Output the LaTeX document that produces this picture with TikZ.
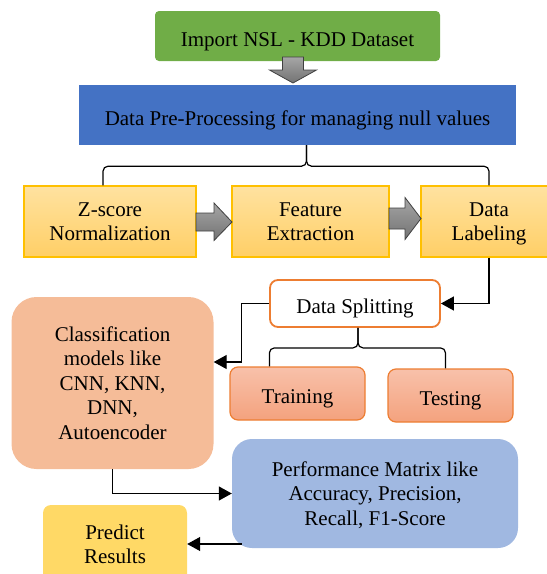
\documentclass[tikz,border=0pt]{standalone}
\usepackage{fontspec}
\setmainfont{Liberation Serif}
\usetikzlibrary{arrows.meta, positioning, calc}
\definecolor{impgreen}{RGB}{112,173,71}
\definecolor{preblue}{RGB}{68,114,196}
\definecolor{steptop}{RGB}{255,226,160}
\definecolor{stepbot}{RGB}{255,207,102}
\definecolor{stepline}{RGB}{255,192,0}
\definecolor{splitorg}{RGB}{237,125,49}
\definecolor{clspeach}{RGB}{245,188,152}
\definecolor{settop}{RGB}{248,193,170}
\definecolor{setbot}{RGB}{244,162,126}
\definecolor{perfblue}{RGB}{160,184,225}
\definecolor{predyellow}{RGB}{255,217,102}
\tikzset{
  base/.style={rectangle, inner sep=2pt, align=center, text depth=0pt,
    font=\fontsize{21}{24.5}\selectfont},
  oneline/.style={text height=20pt},
  stepbox/.style={base, draw=stepline, line width=1.2pt,
    top color=steptop, bottom color=stepbot},
  setbox/.style={base, oneline, draw=splitorg, line width=1.2pt, rounded corners=8pt,
    top color=settop, bottom color=setbot},
  fatarrow/.style={draw=black!75, line width=0.8pt, line join=miter,
    top color=gray!70, bottom color=black!55},
  arr/.style={-{Triangle[length=13pt,width=14pt]}, line width=1.2pt},
  brc/.style={line width=1.2pt, rounded corners=5pt},
}

\begin{document}
\begin{tikzpicture}[x=1pt, y=-1pt]
\useasboundingbox (0,0) rectangle (547,574);

% ── top: import and pre-processing ──
\node[base, oneline, fill=impgreen, rounded corners=4pt, minimum width=285pt, minimum height=50pt]
  (imp) at (297.5,36) {Import NSL - KDD Dataset};
\node[base, oneline, fill=preblue, minimum width=437pt, minimum height=60pt]
  (pre) at (297.5,115) {Data Pre-Processing for managing null values};
\shade[fatarrow] (282.5,57) -- (303.5,57) -- (303.5,70) -- (316.5,70) -- (293,83)
  -- (269.5,70) -- (282.5,70) -- cycle;

% ── row of steps ──
\node[stepbox, minimum width=172pt, minimum height=71pt] (zs) at (110,221.5) {Z-score\\Normalization};
\node[stepbox, minimum width=157pt, minimum height=71pt] (fe) at (310.5,221.5) {Feature\\Extraction};
\node[stepbox, minimum width=136pt, minimum height=71pt] (lab) at (489,221.5) {Data\\Labeling};
\shade[fatarrow] (196,213) -- (214,213) -- (214,203) -- (232,222) -- (214,240.5)
  -- (214,231) -- (196,231) -- cycle;
\shade[fatarrow] (389,208) -- (405,208) -- (405,197.5) -- (421,218.5) -- (405,239.5)
  -- (405,229) -- (389,229) -- cycle;

% ── splitting and models ──
\node[base, oneline, draw=splitorg, line width=1.8pt, fill=white, rounded corners=8pt,
  minimum width=170pt, minimum height=47pt] (split) at (355,303.5) {Data Splitting};
\node[base, fill=clspeach, rounded corners=25pt, minimum width=202pt, minimum height=172pt]
  (cls) at (112.5,383) {Classification\\models like\\CNN, KNN,\\DNN,\\Autoencoder};
\node[setbox, minimum width=135pt, minimum height=53pt] (trn) at (297.5,393.5) {Training};
\node[setbox, minimum width=125pt, minimum height=53pt] (tst) at (450.5,395.5) {Testing};

% ── results ──
\node[base, fill=perfblue, rounded corners=20pt, minimum width=286pt, minimum height=109pt]
  (perf) at (375,493.5) {Performance Matrix like\\Accuracy, Precision,\\Recall, F1-Score};
\node[base, fill=predyellow, rounded corners=8pt, minimum width=144pt, minimum height=78pt]
  (pred) at (115,544) {Predict\\Results};

% ── braces ──
\coordinate (b1) at ($(pre.south)+(9,21)$);
\draw[brc] ($(zs.north)+(-7,0)$) |- (b1) -- (b1 |- pre.south);
\draw[brc] (lab.north) |- (b1) -- (b1 |- pre.south);
\coordinate (b2) at ($(split.south)+(3,20)$);
\draw[brc] ($(trn.north west)+(40,0)$) |- (b2) -- (b2 |- split.south);
\draw[brc] ($(tst.north)+(-5,0)$) |- (b2) -- (b2 |- split.south);

% ── arrows ──
\draw[arr] (lab.south) |- (split.east);
\draw[arr] (split.west) -- ++(-28,0) |- ([yshift=21pt]cls.east);
\draw[arr] (cls.south) |- (perf.west);
\draw[arr] ($(perf.west |- pred.east)+(10,0)$) -- (pred.east);

\end{tikzpicture}
\end{document}
